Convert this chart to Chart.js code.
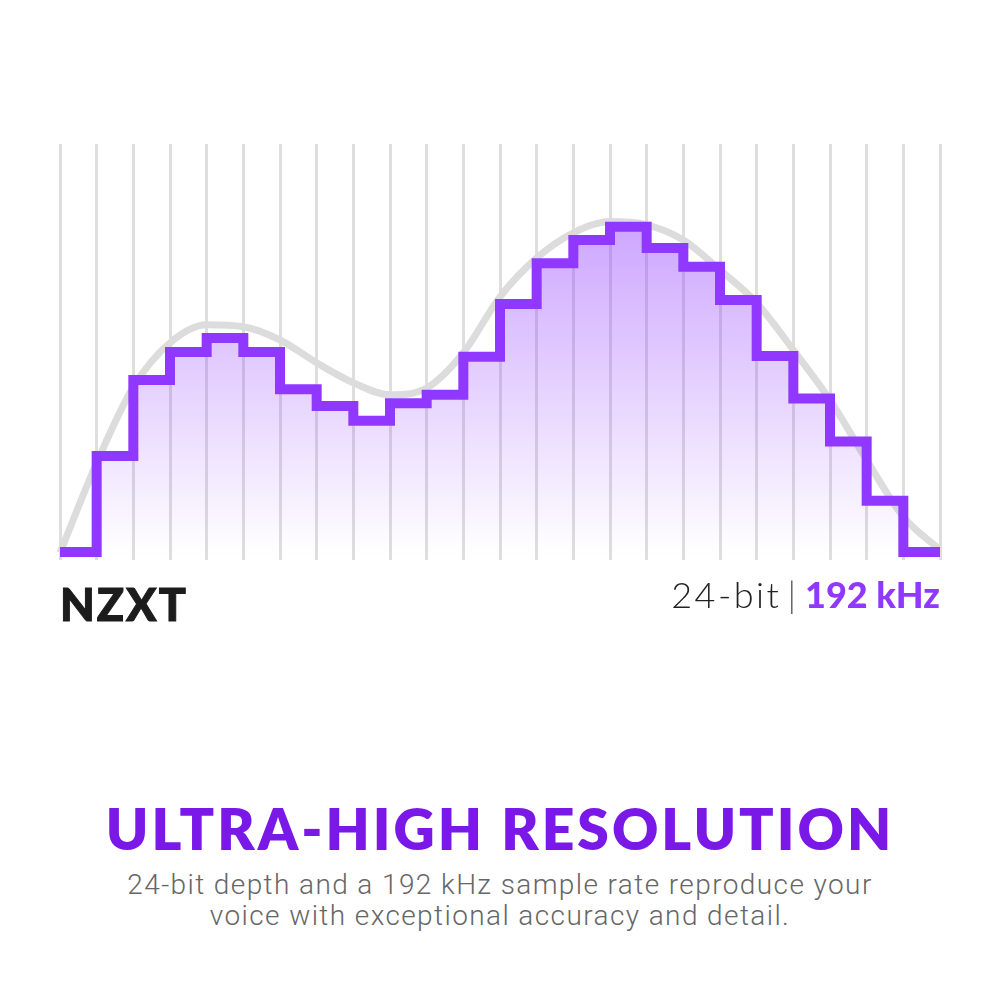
<!DOCTYPE html>
<html>
<head>
<meta charset="utf-8">
<script src="https://cdn.jsdelivr.net/npm/chart.js@4.4.1/dist/chart.umd.min.js"></script>
<style>
  html, body { margin: 0; padding: 0; background: #fff; }
  body { width: 1000px; height: 999px; position: relative; overflow: hidden; }
  #wave { position: absolute; left: 0; top: 0; }
  .txt { position: absolute; white-space: nowrap; line-height: 1; }
  #brand { left: 60px; top: 577px; font: 900 45px Lato, sans-serif; color: #1c1c1c; letter-spacing: 2px; -webkit-text-stroke: 1px #1c1c1c; }
  #spec { right: 60px; top: 576px; font-size: 36px; font-family: Lato, sans-serif; }
  #spec .bits { font-weight: 300; color: #222; letter-spacing: 2.5px; }
  #spec .bar { font-weight: 300; color: #555; margin: 0 9px 0 6px; }
  #spec .rate { font-weight: 900; color: #9038ff; }
  #title { left: 0; width: 1000px; text-align: center; top: 794px; font: 800 57px Lato, sans-serif; color: #7a18e8; letter-spacing: 3px; }
  #sub { left: 0; width: 1000px; text-align: center; top: 869px; font: 300 28px Roboto, sans-serif; color: #666; line-height: 31px; letter-spacing: 1.4px; }
</style>
</head>
<body>
<canvas id="wave" width="1000" height="600"></canvas>
<div class="txt" id="brand">NZXT</div>
<div class="txt" id="spec"><span class="bits">24-bit</span><span class="bar">|</span><span class="rate">192 kHz</span></div>
<div class="txt" id="title">ULTRA-HIGH RESOLUTION</div>
<div class="txt" id="sub">24-bit depth and a 192 kHz sample rate reproduce your<br>voice with exceptional accuracy and detail.</div>
<script>
// sample positions (one per vertical grid line)
const samplePos = [0, 1, 2, 3, 4, 5, 6, 7, 8, 9, 10, 11, 12, 13, 14, 15, 16, 17, 18, 19, 20, 21, 22, 23, 24];
// digital (stepped) levels, last value repeats the final step
const stepLevels = [2, 26, 45, 52, 55.5, 52, 42.7, 38.5, 34.8, 39.2, 41.3, 50.8, 64, 74.2, 80, 83.3, 78, 73.3, 65, 51, 40.4, 29.6, 14.8, 2, 2];
// analog wave under it
const analogWave = [1.8, 24.3, 43.3, 54.3, 58.8, 58.3, 55, 49.3, 44.3, 41.3, 43, 51.8, 65.8, 75.5, 81.8, 84.6, 83.8, 80, 72.5, 64.3, 52.5, 40, 25, 10.8, 2.5];

const purple = '#9038ff';

const toPoints = (vals) => samplePos.map((x, i) => ({ x: x, y: vals[i] }));

const ctx = document.getElementById('wave').getContext('2d');

const waveChart = new Chart(ctx, {
    type: 'line',
    data: {
        datasets: [
            {
                label: 'Digital',
                data: toPoints(stepLevels),
                stepped: 'before',
                borderColor: purple,
                borderWidth: 10,
                borderJoinStyle: 'miter',
                borderCapStyle: 'butt',
                pointRadius: 0,
                fill: 'origin',
                backgroundColor: function(context) {
                    const area = context.chart.chartArea;
                    if (!area) return 'rgba(144,56,255,0.2)';
                    const g = context.chart.ctx.createLinearGradient(0, 220, 0, 555);
                    g.addColorStop(0, 'rgba(144,56,255,0.45)');
                    g.addColorStop(1, 'rgba(144,56,255,0.0)');
                    return g;
                },
                clip: false
            },
            {
                label: 'Analog',
                data: toPoints(analogWave),
                borderColor: '#dcdcdc',
                borderWidth: 7,
                cubicInterpolationMode: 'monotone',
                pointRadius: 0,
                fill: false,
                clip: false
            }
        ]
    },
    options: {
        responsive: false,
        animation: false,
        layout: {
            padding: { top: 144, left: 60, right: 60, bottom: 40 }
        },
        plugins: {
            legend: { display: false },
            tooltip: { enabled: false }
        },
        scales: {
            x: {
                type: 'linear',
                min: 0,
                max: 24,
                ticks: { display: false, stepSize: 1 },
                grid: { color: '#dedede', lineWidth: 3, drawTicks: false },
                border: { display: false }
            },
            y: {
                display: false,
                min: 0,
                max: 104
            }
        }
    }
});
</script>
</body>
</html>
